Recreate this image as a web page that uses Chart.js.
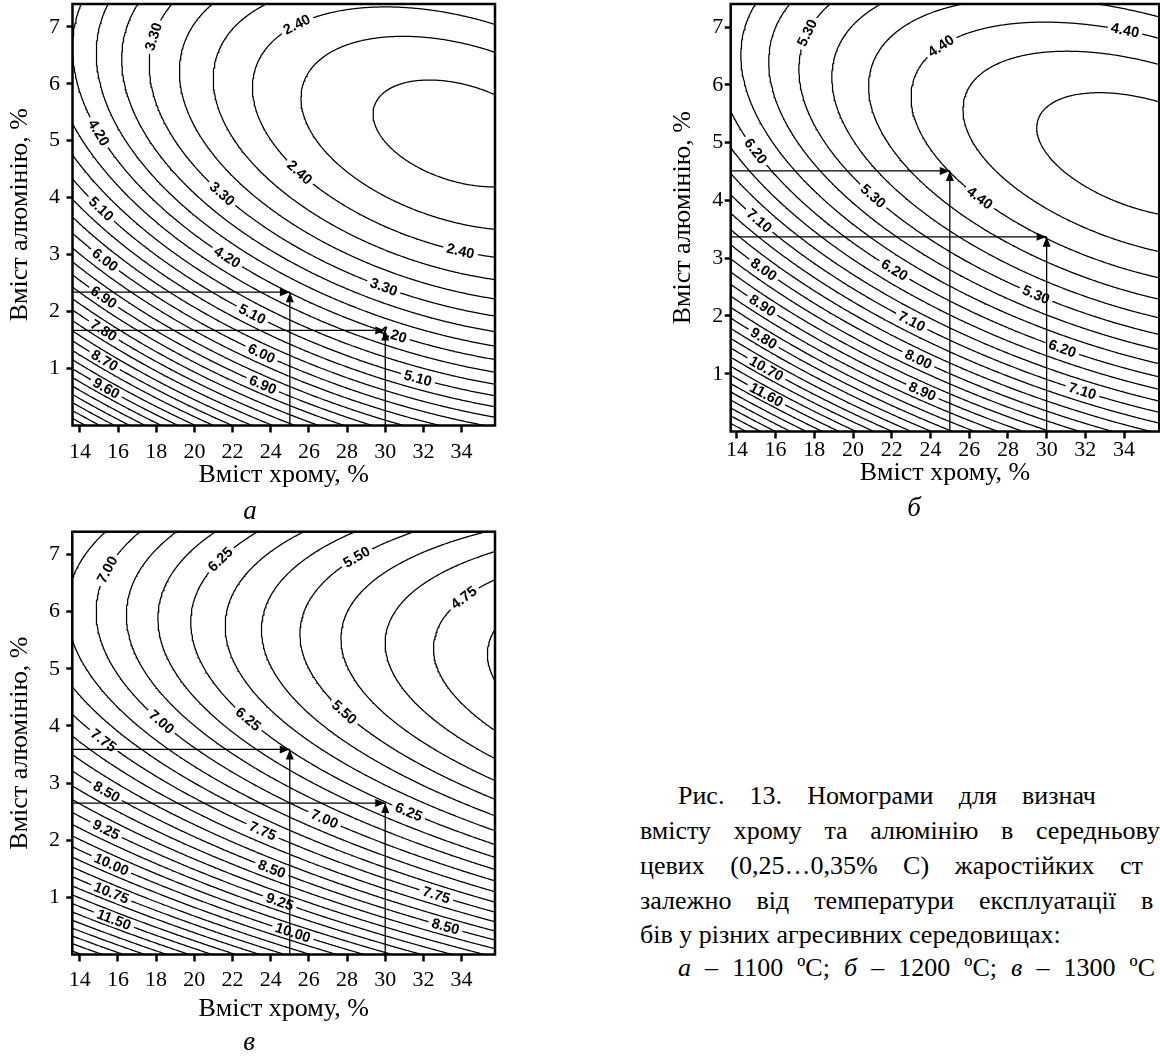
<!DOCTYPE html>
<html lang="uk">
<head>
<meta charset="utf-8">
<title>Номограми вмісту хрому та алюмінію</title>
<script src="https://cdn.jsdelivr.net/npm/chart.js@4.4.1/dist/chart.umd.min.js"></script>
<style>
  html, body { margin: 0; padding: 0; background: #fff; overflow: hidden; }
  body { width: 1160px; height: 1057px; position: relative; color: #000;
         font-family: "Liberation Serif", "Times New Roman", serif; }
  .panel { position: absolute; }
  .sub { position: absolute; font-style: italic; font-size: 27px; line-height: 1; transform: translateX(-50%); }
  .cap { position: absolute; font-size: 26px; line-height: 1; white-space: nowrap; }
  .cap i { font-style: italic; }
</style>
</head>
<body>
<div class="panel" style="left:0;top:0;width:510px;height:520px"><canvas id="chartA"></canvas></div>
<div class="panel" style="left:640px;top:0;width:520px;height:520px"><canvas id="chartB"></canvas></div>
<div class="panel" style="left:0;top:520px;width:510px;height:537px"><canvas id="chartC"></canvas></div>

<div class="sub" style="left:250px;top:497px">а</div>
<div class="sub" style="left:914px;top:494px">б</div>
<div class="sub" style="left:249px;top:1028px">в</div>

<!-- caption lines; data-last = x where the final word of a justified line begins -->
<div class="cap" style="left:678px;top:783px" data-last="1022">Рис. 13. Номограми для визнач</div>
<div class="cap" style="left:640px;top:818px" data-last="1036">вмісту хрому та алюмінію в середньову</div>
<div class="cap" style="left:640px;top:853px" data-last="1120">цевих (0,25…0,35% С) жаростійких ст</div>
<div class="cap" style="left:640px;top:888px" data-last="1141">залежно від температури експлуатації в</div>
<div class="cap" style="left:640px;top:922px">бів у різних агресивних середовищах:</div>
<div class="cap" style="left:678px;top:955px" data-end="1155"><i>а</i> – 1100 ºС; <i>б</i> – 1200 ºС; <i>в</i> – 1300 ºС</div>

<script>
// ---------------- axes ----------------
const xTitle = 'Вміст хрому, %';
const yTitle = 'Вміст алюмінію, %';
const xTicks = [14, 16, 18, 20, 22, 24, 26, 28, 30, 32, 34];
const yTicks = [1, 2, 3, 4, 5, 6, 7];

// ---------------- а: 1100 °C ----------------
const levelsA = [1.80, 2.10, 2.40, 2.70, 3.00, 3.30, 3.60, 3.90, 4.20, 4.50, 4.80, 5.10,
  5.40, 5.70, 6.00, 6.30, 6.60, 6.90, 7.20, 7.50, 7.80, 8.10, 8.40, 8.70, 9.00, 9.30,
  9.60, 9.90, 10.20, 10.50, 10.80, 11.10, 11.40, 11.70, 12.00];
// labelled points [Cr, Al, value]
const labelsA = [
  [17.93, 6.81, 3.30], [21.5, 4.09, 3.30], [29.88, 2.42, 3.30],
  [15.05, 5.14, 4.20], [21.7, 2.96, 4.20], [30.4, 1.56, 4.20],
  [15.15, 3.82, 5.10], [23.0, 1.93, 5.10], [31.7, 0.82, 5.10],
  [15.2, 2.88, 6.00], [23.5, 1.25, 6.00],
  [15.2, 2.24, 6.90], [23.6, 0.72, 6.90],
  [15.2, 1.65, 7.80], [15.3, 1.16, 8.70], [15.4, 0.68, 9.60],
  [25.4, 7.0, 2.40], [25.5, 4.44, 2.40], [34.0, 3.12, 2.40]
];
// further points read on unlabelled isolines [Cr, Al, value]
const crossingsA = [
  [13.83, 6, 4.20], [14.88, 6, 3.90], [16.36, 6, 3.60], [17.67, 6, 3.30], [19.33, 6, 3.00],
  [21.16, 6, 2.70], [23.08, 6, 2.40], [25.62, 6, 2.10], [30.77, 6, 1.80],
  [29.37, 5.6, 1.80], [35.7, 5.86, 1.80], [35.7, 4.1, 1.80],
  [35.7, 6.6, 2.10], [35.7, 3.61, 2.10], [35.7, 7.07, 2.40]
];
const arrowsA = [[25, 2.34], [30, 1.67]];

// ---------------- б: 1200 °C ----------------
const levelsB = [3.80, 4.10, 4.40, 4.70, 5.00, 5.30, 5.60, 5.90, 6.20, 6.50, 6.80, 7.10,
  7.40, 7.70, 8.00, 8.30, 8.60, 8.90, 9.20, 9.50, 9.80, 10.10, 10.40, 10.70, 11.00, 11.30,
  11.60, 11.90, 12.20, 12.50, 12.80, 13.10, 13.40, 13.70, 14.00];
const labelsB = [
  [17.82, 6.87, 5.30], [21.05, 4.06, 5.30], [29.44, 2.36, 5.30],
  [24.61, 6.63, 4.40], [34.0, 6.91, 4.40], [26.56, 4.03, 4.40],
  [14.95, 4.84, 6.20], [22.17, 2.81, 6.20], [30.83, 1.42, 6.20],
  [15.2, 3.68, 7.10], [23.0, 1.87, 7.10], [31.81, 0.69, 7.10],
  [15.29, 2.78, 8.00], [23.37, 1.27, 8.00],
  [15.29, 2.17, 8.90], [23.55, 0.69, 8.90],
  [15.37, 1.62, 9.80], [15.55, 1.10, 10.70], [15.55, 0.63, 11.60]
];
const crossingsB = [
  [14.2, 6, 5.90], [15.72, 6, 5.60], [17.23, 6, 5.30], [19.07, 6, 5.00], [20.85, 6, 4.70],
  [23.11, 6, 4.40], [25.69, 6, 4.10], [13.74, 5.53, 6.20],
  [29.5, 5.13, 3.80], [35.8, 5.71, 3.80], [35.8, 3.8, 3.80],
  [25.6, 5.59, 4.10], [35.8, 6.4, 4.10], [35.8, 3.2, 4.10],
  [23.03, 5.77, 4.40], [35.8, 6.84, 4.40]
];
const arrowsB = [[25, 4.51], [30, 3.37]];

// ---------------- в: 1300 °C ----------------
const levelsC = [4.50, 4.75, 5.00, 5.25, 5.50, 5.75, 6.00, 6.25, 6.50, 6.75, 7.00, 7.25,
  7.50, 7.75, 8.00, 8.25, 8.50, 8.75, 9.00, 9.25, 9.50, 9.75, 10.00, 10.25, 10.50, 10.75,
  11.00, 11.25, 11.50, 11.75, 12.00, 12.25, 12.50, 12.75, 13.00];
const labelsC = [
  [15.4, 6.72, 7.00], [21.51, 6.87, 6.25], [28.59, 6.90, 5.50], [34.18, 6.2, 4.75],
  [18.37, 4.10, 7.00], [22.91, 4.13, 6.25], [27.89, 4.27, 5.50],
  [15.22, 3.72, 7.75], [15.4, 2.85, 8.50], [15.4, 2.21, 9.25], [15.66, 1.59, 10.00],
  [15.66, 1.07, 10.75], [15.75, 0.60, 11.50],
  [26.75, 2.35, 7.00], [31.2, 2.48, 6.25],
  [23.52, 2.12, 7.75], [24.05, 1.48, 8.50], [24.48, 0.92, 9.25], [25.18, 0.40, 10.00],
  [32.64, 1.04, 7.75], [33.16, 0.49, 8.50]
];
const crossingsC = [
  [14.70, 6, 7.00], [16.36, 6, 6.75], [18.02, 6, 6.50], [19.85, 6, 6.25], [21.77, 6, 6.00],
  [23.70, 6, 5.75], [25.70, 6, 5.50], [27.89, 6, 5.25], [30.25, 6, 5.00], [32.78, 6, 4.75],
  [35.49, 6, 4.50],
  [35.4, 5.24, 4.50], [35.75, 5.67, 4.50], [35.75, 4.83, 4.50],
  [32.69, 5.47, 4.75], [35.75, 6.51, 4.75], [35.75, 4.07, 4.75], [30.16, 5.53, 5.00]
];
const arrowsC = [[25, 3.59], [30, 2.65]];

// ---------------- response surface ----------------
// second-order regression in Cr and Al, fitted by least squares to the read isoline points
function basis(u, v) {
  const a = (u - 25) / 10, b = (v - 3.7) / 3.7;
  return [1, a, b, a * a, b * b, a * b];
}
function fitSurface(rows) {
  const n = 6;
  const M = Array.from({length: n}, () => new Array(n + 1).fill(0));
  rows.forEach(([u, v, z]) => {
    const p = basis(u, v);
    for (let i = 0; i < n; i++) {
      for (let j = 0; j < n; j++) M[i][j] += p[i] * p[j];
      M[i][n] += p[i] * z;
    }
  });
  for (let c = 0; c < n; c++) {
    let piv = c;
    for (let r = c + 1; r < n; r++) if (Math.abs(M[r][c]) > Math.abs(M[piv][c])) piv = r;
    [M[c], M[piv]] = [M[piv], M[c]];
    for (let r = 0; r < n; r++) {
      if (r === c) continue;
      const k = M[r][c] / M[c][c];
      for (let j = c; j <= n; j++) M[r][j] -= k * M[c][j];
    }
  }
  const coef = M.map((row, i) => row[n] / row[i]);
  return (u, v) => basis(u, v).reduce((s, p, i) => s + p * coef[i], 0);
}

// marching squares, segments chained into polylines
function isolines(f, xr, yr, nx, ny, level) {
  const [x0, x1] = xr, [y0, y1] = yr;
  const dx = (x1 - x0) / nx, dy = (y1 - y0) / ny;
  const W = nx + 1;
  const g = new Float64Array((ny + 1) * W);
  for (let j = 0; j <= ny; j++)
    for (let i = 0; i <= nx; i++) g[j * W + i] = f(x0 + i * dx, y0 + j * dy) - level;
  const hId = (i, j) => (j * W + i) * 2;
  const vId = (i, j) => (j * W + i) * 2 + 1;
  const edgePoint = id => {
    const k = id >> 1, i = k % W, j = (k - i) / W;
    if ((id & 1) === 0) {
      const a = g[j * W + i], b = g[j * W + i + 1];
      return [x0 + (i + a / (a - b)) * dx, y0 + j * dy];
    }
    const a = g[j * W + i], b = g[(j + 1) * W + i];
    return [x0 + i * dx, y0 + (j + a / (a - b)) * dy];
  };
  const segs = [];
  const adj = new Map();
  const link = (e, k) => { if (!adj.has(e)) adj.set(e, []); adj.get(e).push(k); };
  const add = (e1, e2) => { const k = segs.length; segs.push([e1, e2]); link(e1, k); link(e2, k); };
  for (let j = 0; j < ny; j++) {
    for (let i = 0; i < nx; i++) {
      const a = g[j * W + i] > 0, b = g[j * W + i + 1] > 0;
      const c = g[(j + 1) * W + i + 1] > 0, d = g[(j + 1) * W + i] > 0;
      const B = hId(i, j), R = vId(i + 1, j), T = hId(i, j + 1), L = vId(i, j);
      const cut = [];
      if (a !== b) cut.push(B);
      if (b !== c) cut.push(R);
      if (c !== d) cut.push(T);
      if (d !== a) cut.push(L);
      if (cut.length === 2) add(cut[0], cut[1]);
      else if (cut.length === 4) {
        const mid = (g[j * W + i] + g[j * W + i + 1] + g[(j + 1) * W + i + 1] + g[(j + 1) * W + i]) / 4 > 0;
        if (mid === a) { add(B, R); add(T, L); } else { add(L, B); add(R, T); }
      }
    }
  }
  const used = new Uint8Array(segs.length);
  const walk = (start, out) => {
    let cur = start;
    for (;;) {
      const next = (adj.get(cur) || []).find(k => !used[k]);
      if (next === undefined) break;
      used[next] = 1;
      const [p, q] = segs[next];
      cur = p === cur ? q : p;
      out.push(cur);
    }
  };
  const lines = [];
  for (let s = 0; s < segs.length; s++) {
    if (used[s]) continue;
    used[s] = 1;
    const fwd = [segs[s][0], segs[s][1]];
    walk(segs[s][1], fwd);
    const back = [];
    walk(segs[s][0], back);
    lines.push(back.reverse().concat(fwd).map(edgePoint));
  }
  return lines;
}

// ---------------- drawing ----------------
const serif = '"Liberation Serif", "Times New Roman", serif';
const labelFont = 'bold 14.5px "Liberation Sans", Arial, sans-serif';

function makePanel(canvasId, p) {
  const surface = fitSurface(p.labels.concat(p.crossings));
  const xr = [p.x[0] - 0.3, p.x[1] + 0.3], yr = [p.y[0] - 0.3, p.y[1] + 0.3];
  const datasets = [];
  const lineStyle = {showLine: true, pointRadius: 0, borderColor: '#000', borderWidth: 1.25,
                     tension: 0, spanGaps: false, fill: false};
  p.arrows.forEach(([u, v]) => {
    datasets.push({...lineStyle, borderWidth: 1.3, data: [{x: p.x[0], y: v}, {x: u, y: v}]});
    datasets.push({...lineStyle, borderWidth: 1.3, data: [{x: u, y: p.y[0]}, {x: u, y: v}]});
  });
  const firstContour = datasets.length;
  const isoMap = new Map();
  p.levels.forEach(L => {
    const lines = isolines(surface, xr, yr, 330, 150, L);
    isoMap.set(L.toFixed(2), lines);
    const pts = [];
    lines.forEach(line => {
      line.forEach(q => pts.push({x: q[0], y: q[1]}));
      const last = line[line.length - 1];
      pts.push({x: last[0], y: null});
    });
    datasets.push({...lineStyle, data: pts});
  });

  const decor = {
    id: 'decor',
    afterDatasetDraw(chart, args) {
      if (args.index !== firstContour) return;
      const {ctx, chartArea: area, scales: {x, y}} = chart;
      ctx.save();
      ctx.beginPath();
      ctx.rect(area.left, area.top, area.right - area.left, area.bottom - area.top);
      ctx.clip();
      ctx.font = labelFont;
      ctx.textAlign = 'center';
      ctx.textBaseline = 'middle';
      p.labels.forEach(([u, v, val]) => {
        const lines = isoMap.get(val.toFixed(2)) || [];
        const px = x.getPixelForValue(u), py = y.getPixelForValue(v);
        let best = null;
        lines.forEach(line => line.forEach((q, i) => {
          const qx = x.getPixelForValue(q[0]), qy = y.getPixelForValue(q[1]);
          const d = (qx - px) ** 2 + (qy - py) ** 2;
          if (!best || d < best.d) best = {d, line, i, qx, qy};
        }));
        if (!best) return;
        const a = best.line[Math.max(0, best.i - 3)];
        const b = best.line[Math.min(best.line.length - 1, best.i + 3)];
        let ang = Math.atan2(y.getPixelForValue(b[1]) - y.getPixelForValue(a[1]),
                             x.getPixelForValue(b[0]) - x.getPixelForValue(a[0]));
        if (ang > Math.PI / 2) ang -= Math.PI;
        if (ang < -Math.PI / 2) ang += Math.PI;
        const text = val.toFixed(2);
        const w = ctx.measureText(text).width;
        ctx.save();
        ctx.translate(best.qx, best.qy);
        ctx.rotate(ang);
        ctx.fillStyle = '#fff';
        ctx.fillRect(-w / 2 - 3.5, -6, w + 7, 12);
        ctx.fillStyle = '#000';
        ctx.fillText(text, 0, 0.5);
        ctx.restore();
      });
      ctx.restore();
    },
    afterDatasetsDraw(chart) {
      const {ctx, chartArea: area, scales: {x, y}} = chart;
      ctx.save();
      ctx.fillStyle = '#000';
      p.arrows.forEach(([u, v]) => {
        const tx = x.getPixelForValue(u), ty = y.getPixelForValue(v);
        ctx.beginPath();
        ctx.moveTo(tx, ty); ctx.lineTo(tx - 10, ty - 4); ctx.lineTo(tx - 10, ty + 4);
        ctx.closePath(); ctx.fill();
        ctx.beginPath();
        ctx.moveTo(tx, ty); ctx.lineTo(tx - 4, ty + 10); ctx.lineTo(tx + 4, ty + 10);
        ctx.closePath(); ctx.fill();
      });
      ctx.strokeStyle = '#000';
      ctx.lineWidth = 2.5;
      ctx.strokeRect(area.left, area.top, area.right - area.left, area.bottom - area.top);
      ctx.restore();
    }
  };

  const b = p.box;
  new Chart(document.getElementById(canvasId), {
    type: 'scatter',
    data: {datasets},
    options: {
      responsive: true,
      maintainAspectRatio: false,
      animation: false,
      events: [],
      layout: {padding: {top: b.padTop, right: b.padRight, left: 0, bottom: 0}},
      plugins: {legend: {display: false}, tooltip: {enabled: false}},
      scales: {
        x: {
          type: 'linear', min: p.x[0], max: p.x[1],
          afterBuildTicks: s => { s.ticks = xTicks.map(value => ({value})); },
          afterFit: s => { s.height = b.xHeight; s.paddingLeft = 0; s.paddingRight = 0; },
          ticks: {autoSkip: false, maxRotation: 0, padding: b.xTickPad, color: '#000',
                  font: {family: serif, size: 22}},
          grid: {drawOnChartArea: false, drawTicks: true, tickLength: 7, tickWidth: 2.5, tickColor: '#000'},
          border: {display: false},
          title: {display: true, text: xTitle, color: '#000', font: {family: serif, size: 26},
                  padding: {top: 0, bottom: b.xTitlePad}}
        },
        y: {
          type: 'linear', min: p.y[0], max: p.y[1],
          afterBuildTicks: s => { s.ticks = yTicks.map(value => ({value})); },
          afterFit: s => { s.width = b.yWidth; s.paddingTop = 0; s.paddingBottom = 0; },
          ticks: {autoSkip: false, padding: b.yTickPad, color: '#000',
                  font: {family: serif, size: 22}},
          grid: {drawOnChartArea: false, drawTicks: true, tickLength: 6, tickWidth: 2.5, tickColor: '#000'},
          border: {display: false},
          title: {display: true, text: yTitle, color: '#000', font: {family: serif, size: 26},
                  padding: {top: b.yTitlePad, bottom: 0}}
        }
      }
    },
    plugins: [decor]
  });
}

makePanel('chartA', {
  levels: levelsA, labels: labelsA, crossings: crossingsA, arrows: arrowsA,
  x: [13.61, 35.75], y: [0, 7.4],
  box: {padTop: 4, padRight: 15, yWidth: 72.5, xHeight: 94.5, xTickPad: 6.8, xTitlePad: 29.4,
        yTickPad: 6.5, yTitlePad: 4.4}
});
makePanel('chartB', {
  levels: levelsB, labels: labelsB, crossings: crossingsB, arrows: arrowsB,
  x: [13.68, 35.82], y: [0, 7.4],
  box: {padTop: 4, padRight: 0.7, yWidth: 90.7, xHeight: 88.5, xTickPad: -1.2, xTitlePad: 30.9,
        yTickPad: 1.4, yTitlePad: 27.4}
});
makePanel('chartC', {
  levels: levelsC, labels: labelsC, crossings: crossingsC, arrows: arrowsC,
  x: [13.61, 35.75], y: [0, 7.4],
  box: {padTop: 11.7, padRight: 15, yWidth: 72.3, xHeight: 102.5, xTickPad: 5.3, xTitlePad: 31.9,
        yTickPad: 6.3, yTitlePad: 4.4}
});

// justify caption lines: widen the word gaps so the final word starts (or the line ends) where set
const measure = document.createElement('canvas').getContext('2d');
document.querySelectorAll('.cap').forEach(el => {
  const text = el.textContent;
  const gaps = (text.match(/ /g) || []).length;
  if (!gaps) return;
  const cs = getComputedStyle(el);
  measure.font = `${cs.fontSize} ${cs.fontFamily}`;
  let extra = 0;
  if (el.dataset.last) {
    const head = text.slice(0, text.lastIndexOf(' ') + 1);
    extra = (+el.dataset.last - el.offsetLeft - measure.measureText(head).width) / gaps;
  } else if (el.dataset.end) {
    extra = (+el.dataset.end - el.offsetLeft - el.getBoundingClientRect().width) / gaps;
  }
  if (extra > 0) el.style.wordSpacing = extra + 'px';
});
</script>
</body>
</html>
